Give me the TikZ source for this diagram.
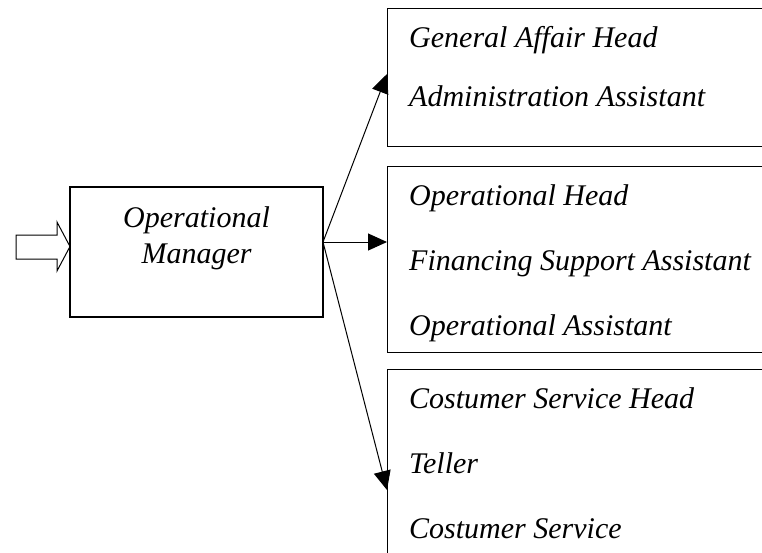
\documentclass[tikz,border=0pt]{standalone}
\usepackage{fontspec}
\setmainfont{Liberation Serif}
\usetikzlibrary{arrows.meta}
\begin{document}
\begin{tikzpicture}[x=1pt,y=-1pt,
  boxstyle/.style={draw=black, line width=1.2pt, inner sep=0pt},
  txt/.style={font=\fontsize{30}{30}\selectfont\itshape, inner sep=0pt, anchor=base west},
  ctxt/.style={font=\fontsize{30}{30}\selectfont\itshape, inner sep=0pt, anchor=base},
  arr/.style={line width=1pt, -{Triangle[length=19pt,width=17pt]}}]
\useasboundingbox (0,0) rectangle (762,552);
\clip (0,0) rectangle (762,552);
% manager box
\node[boxstyle, minimum width=253pt, minimum height=130pt] (mgr) at (196.5,252) {};
\node[ctxt] (mgr1) at (196.5,227) {Operational};
\node[ctxt] (mgr2) at (196.5,263) {Manager};
% block arrow
\draw[line width=1pt] (16,235) -- (57,235) -- (57,222) -- (70,246.5) -- (57,271) -- (57,259) -- (16,259) -- cycle;
% right boxes
\node[boxstyle, anchor=north west, minimum width=390pt, minimum height=138pt] (b1) at (387,8) {};
\node[boxstyle, anchor=north west, minimum width=390pt, minimum height=186pt] (b2) at (387,166) {};
\node[boxstyle, anchor=north west, minimum width=390pt, minimum height=200pt] (b3) at (387,369) {};
% texts
\node[txt] (t11) at (409,47) {General Affair Head};
\node[txt] (t12) at (409,106) {Administration Assistant};
\node[txt] (t21) at (409,205) {Operational Head};
\node[txt] (t22) at (409,270) {Financing Support Assistant};
\node[txt] (t23) at (409,335) {Operational Assistant};
\node[txt] (t31) at (409,408) {Costumer Service Head};
\node[txt] (t32) at (409,473) {Teller};
\node[txt] (t33) at (409,538) {Costumer Service};
% connectors
\coordinate (src) at (323,242);
\coordinate (e1) at (387,74);
\coordinate (e2) at (387,242);
\coordinate (e3) at (387,490);
\draw[arr] (src) -- (e1);
\draw[arr] (src) -- (e2);
\draw[arr] (src) -- (e3);
\end{tikzpicture}
\end{document}
